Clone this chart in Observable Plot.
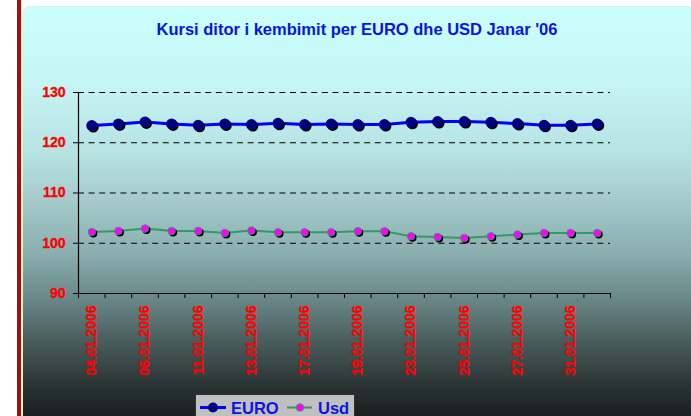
<!DOCTYPE html>
<html><head><meta charset="utf-8">
<script src="https://cdn.jsdelivr.net/npm/d3@7"></script>
<script src="https://cdn.jsdelivr.net/npm/@observablehq/plot@0.6"></script>
<style>
body{margin:0;background:#fff;}
#wrap{position:relative;width:691px;height:416px;overflow:hidden;font-family:Arial,"Liberation Sans",sans-serif;}
#bar{position:absolute;left:17px;top:0;width:4px;height:416px;background:#a80c0c;}
#panel{position:absolute;left:22px;top:6px;width:700px;height:420px;border-radius:8px;box-sizing:border-box;border-top:1px solid #d4f8d0;border-left:1px solid #d4f8d0;
background:linear-gradient(to bottom,#ccffff 0%,#c5f5f4 18%,#b6e2e2 35%,#a3c9c9 47%,#8aadad 59%,#6c8a8a 69%,#4c5f5f 79%,#293131 91%,#151919 100%);}
#title{position:absolute;left:0;top:20px;width:714px;text-align:center;font-weight:bold;font-size:16.5px;line-height:18px;color:#0a14e6;white-space:nowrap;}
#chart{position:absolute;left:0;top:0;}
#chart svg text{stroke:#ff0000;stroke-width:0.3px;}
#legend{position:absolute;left:195px;top:394px;width:160px;height:26px;background:#c0c0c0;box-sizing:border-box;border:1px solid #303030;}
#legend svg{position:absolute;left:-1px;top:-1px;}
</style>
</head><body>
<div id="wrap">
  <div id="bar"></div>
  <div id="panel"></div>
  <div id="title">Kursi ditor i kembimit per EURO dhe USD Janar '06</div>
  <div id="chart"></div>
  <div id="legend">
    <svg width="160" height="26" font-family="Arial, Liberation Sans, sans-serif" font-weight="bold" font-size="16.5">
      <line x1="5" x2="31" y1="13.5" y2="13.5" stroke="#0000ff" stroke-width="3"/>
      <circle cx="18" cy="13.5" r="5" fill="#000080"/>
      <text x="36" y="19.5" fill="#0a14e6">EURO</text>
      <line x1="92" x2="117" y1="13.5" y2="13.5" stroke="#339966" stroke-width="2"/>
      <circle cx="105" cy="13.5" r="3.8" fill="#ff00ff" stroke="#339966" stroke-width="0.8"/>
      <text x="123" y="19.5" fill="#0a14e6">Usd</text>
    </svg>
  </div>
</div>
<script>
const dates = ["04.01.2006","05.01.2006","06.01.2006","10.01.2006","11.01.2006","12.01.2006","13.01.2006","16.01.2006","17.01.2006","18.01.2006","19.01.2006","20.01.2006","23.01.2006","24.01.2006","25.01.2006","26.01.2006","27.01.2006","30.01.2006","31.01.2006","01.02.2006"];
const euro = [123.41,123.75,124.15,123.75,123.47,123.75,123.61,123.87,123.61,123.75,123.61,123.61,124.07,124.21,124.21,124.07,123.81,123.47,123.47,123.75];
const usd = [102.24,102.44,102.92,102.44,102.44,102.04,102.52,102.18,102.18,102.18,102.38,102.38,101.39,101.25,101.05,101.39,101.73,102.04,102.04,102.04];
const yTicks = [90,100,110,120,130];
const gridTicks = [100,110,120,130];

const euroData = euro.map((v,i)=>({i:i+0.5, v}));
const usdData = usd.map((v,i)=>({i:i+0.5, v}));
const labelTicks = dates.map((d,i)=>i).filter(i=>i%2===0).map(i=>i+0.5);
const font = "Arial, 'Liberation Sans', sans-serif";

const chart = Plot.plot({
  width: 691, height: 416,
  marginLeft: 78, marginRight: 81, marginTop: 92, marginBottom: 123,
  style: {background: "transparent", fontFamily: font, overflow: "visible"},
  x: {domain: [0, dates.length], axis: null},
  y: {domain: [90, 130], axis: null},
  marks: [
    Plot.ruleY(gridTicks, {stroke: "#000000", strokeWidth: 1, strokeDasharray: "6,4.6"}),
    Plot.ruleY([90], {stroke: "black", strokeWidth: 1.2}),
    Plot.ruleX([0], {y1: 90, y2: 130, stroke: "black", strokeWidth: 1.2}),
    Plot.axisY({ticks: yTicks, tickSize: 5, tickPadding: 8, label: null, fill: "#ff0000", fontSize: 14, fontWeight: "bold", stroke: "black", tickFormat: d => String(d)}),
    Plot.axisX({ticks: d3.range(0, dates.length + 1), tickSize: 5, tickFormat: () => "", label: null, stroke: "black"}),
    Plot.axisX({ticks: labelTicks, tickSize: 0, tickPadding: 12, tickRotate: -90, label: null, fill: "#ff0000", fontSize: 14, fontWeight: "bold", tickFormat: d => dates[Math.round(d - 0.5)]}),
    Plot.line(usdData, {x: "i", y: "v", stroke: "#339966", strokeWidth: 2}),
    Plot.dot(usdData, {x: "i", y: "v", r: 4, fill: "black", dx: 1.5, dy: 1.5}),
    Plot.dot(usdData, {x: "i", y: "v", r: 3.8, fill: "#ff00ff", stroke: "#339966", strokeWidth: 0.8}),
    Plot.line(euroData, {x: "i", y: "v", stroke: "#0000ff", strokeWidth: 3}),
    Plot.dot(euroData, {x: "i", y: "v", r: 5.5, fill: "black", dx: 1.5, dy: 1.5}),
    Plot.dot(euroData, {x: "i", y: "v", r: 5.5, fill: "#000080"})
  ]
});
document.getElementById("chart").appendChild(chart);
</script>
</body></html>
